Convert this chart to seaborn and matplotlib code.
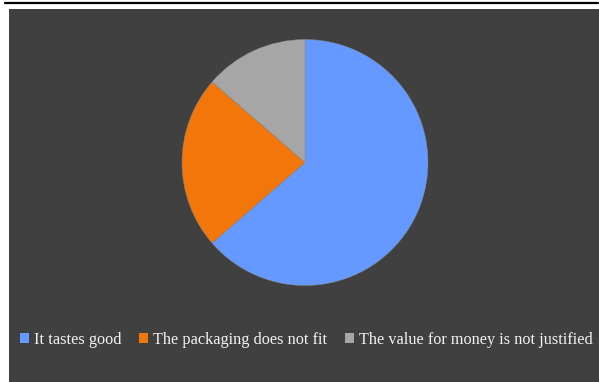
import matplotlib
matplotlib.use("Agg")
import matplotlib.pyplot as plt
from matplotlib.patches import Rectangle, Patch
from matplotlib.lines import Line2D
import seaborn as sns

# Survey answers (share of respondents)
labels = ["It tastes good", "The packaging does not fit", "The value for money is not justified"]
counts = [14, 5, 3]
colors = ["#6699FF", "#F2760A", "#A6A6A6"]

sns.set_theme(style="white")
plt.rcParams['font.family'] = ['Liberation Serif', 'DejaVu Serif']

W, H = 599, 382
fig = plt.figure(figsize=(W / 100, H / 100), dpi=100)
fig.patch.set_facecolor("white")

# dark chart area and the rule on top
fig.patches.append(Rectangle((9 / W, 0), (W - 9) / W, (H - 9) / H,
                             transform=fig.transFigure, facecolor="#404040",
                             edgecolor="none", zorder=-10))
fig.lines.append(Line2D([5 / W, 598 / W], [1 - 3 / H, 1 - 3 / H],
                        transform=fig.transFigure, color="black", linewidth=1.6))

# pie
cx, cy, r = 305, 162.5, 123
ax = fig.add_axes([(cx - r) / W, 1 - (cy + r) / H, 2 * r / W, 2 * r / H])
ax.set_zorder(5)
ax.pie(counts, colors=colors, startangle=90, counterclock=False,
       wedgeprops=dict(edgecolor="#8a8a8a", linewidth=0.3))
ax.set_xlim(-1, 1)
ax.set_ylim(-1, 1)
ax.set_aspect("equal")
ax.axis("off")

# legend
handles = [Patch(facecolor=c, edgecolor="none") for c in colors]
leg = fig.legend(handles, labels, loc="center", bbox_to_anchor=(306 / W, 1 - 340 / H),
                 ncol=3, frameon=False, fontsize=11.7, handlelength=0.55, handleheight=0.55,
                 handletextpad=0.3, columnspacing=1.1, borderaxespad=0)
for t in leg.get_texts():
    t.set_color("#F2F2F2")

fig.savefig("out.png", dpi=100)
